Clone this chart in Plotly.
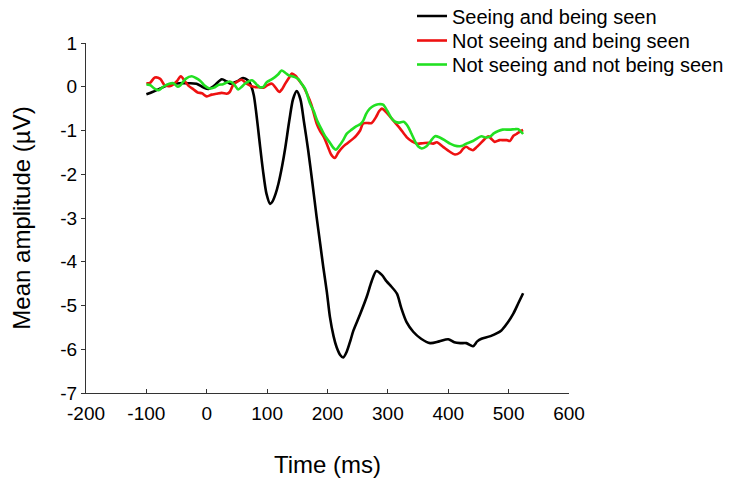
import plotly.graph_objects as go

# ---- data ----
names = ["Seeing and being seen", "Not seeing and being seen", "Not seeing and not being seen"]
colors = ["#000000", "#ee1111", "#22e022"]

black_x = [-100, -90, -77, -61, -45, -30, -17, -5, 3, 12, 25, 33, 40, 50, 60, 68, 74, 78, 82, 87, 93, 99,
           105, 109, 114, 119, 125, 130, 137, 143, 149, 155, 161, 168, 175, 182, 188, 193, 199, 204, 210,
           215, 221, 226, 232, 238, 243, 254, 265, 273, 281, 290, 298, 304, 315, 322, 331, 342, 355, 370,
           385, 400, 410, 420, 430, 441, 448, 455, 470, 488, 498, 508, 516, 524]
black_y = [-0.17, -0.12, -0.04, 0.05, 0.08, 0.08, 0.07, -0.02, -0.05, 0.02, 0.17, 0.12, 0.07, 0.12, 0.2, 0.15,
           0.0, -0.2, -0.6, -1.2, -1.9, -2.45, -2.68, -2.62, -2.45, -2.2, -1.8, -1.4, -0.75, -0.28, -0.1, -0.28,
           -0.8, -1.45, -2.2, -2.98, -3.6, -4.12, -4.7, -5.26, -5.7, -5.95, -6.13, -6.19, -6.05, -5.8, -5.57,
           -5.2, -4.8, -4.45, -4.21, -4.3, -4.45, -4.54, -4.73, -5.05, -5.38, -5.6, -5.76, -5.86, -5.82, -5.77,
           -5.84, -5.86, -5.86, -5.93, -5.82, -5.76, -5.7, -5.57, -5.4, -5.18, -4.95, -4.72]

red_x = [-100, -94, -86, -77, -70, -60, -50, -43, -36, -30, -22, -15, -8, 0, 8, 16, 25, 33, 38, 44, 52, 58,
         66, 77, 86, 94, 101, 108, 114, 120, 125, 130, 136, 141, 147, 152, 159, 166, 173, 182, 188, 194, 201,
         206, 212, 218, 226, 232, 243, 248, 254, 259, 266, 273, 280, 286, 290, 297, 304, 312, 320, 331, 340,
         348, 358, 367, 375, 381, 392, 402, 411, 419, 425, 430, 435, 441, 447, 453, 460, 466, 472, 477, 485,
         491, 497, 502, 508, 513, 518, 524]
red_y = [0.08, 0.09, 0.21, 0.18, 0.04, 0.02, 0.12, 0.24, 0.12, 0.02, -0.06, -0.13, -0.15, -0.22, -0.18, -0.16,
         -0.14, -0.16, -0.12, 0.05, 0.13, 0.16, 0.07, 0.0, -0.01, -0.02, 0.04, 0.07, -0.02, -0.12, -0.05, 0.07,
         0.2, 0.3, 0.25, 0.16, 0.03, -0.16, -0.4, -0.84, -1.02, -1.15, -1.38, -1.55, -1.63, -1.5, -1.37, -1.3,
         -1.18, -1.11, -1.0, -0.84, -0.83, -0.83, -0.7, -0.55, -0.5, -0.58, -0.69, -0.82, -0.95, -1.15, -1.25,
         -1.3, -1.29, -1.28, -1.3, -1.27, -1.38, -1.48, -1.55, -1.51, -1.41, -1.37, -1.42, -1.45, -1.38, -1.3,
         -1.2, -1.13, -1.2, -1.26, -1.22, -1.22, -1.22, -1.24, -1.12, -1.08, -1.03, -0.99]

green_x = [-100, -94, -86, -80, -72, -62, -55, -48, -44, -35, -25, -18, -11, -3, 5, 12, 19, 27, 38, 45, 52,
           58, 63, 69, 75, 82, 88, 94, 99, 105, 110, 118, 124, 130, 136, 146, 152, 157, 163, 171, 177, 183,
           190, 197, 204, 210, 214, 219, 226, 232, 240, 248, 254, 259, 264, 270, 277, 284, 292, 299, 306, 312,
           318, 326, 333, 339, 345, 350, 356, 364, 371, 378, 386, 395, 403, 410, 419, 425, 430, 441, 448, 455,
           462, 469, 476, 483, 490, 502, 510, 516, 520, 524]
green_y = [0.05, 0.04, -0.05, -0.08, 0.0, 0.07, 0.08, 0.0, 0.03, 0.18, 0.24, 0.2, 0.14, 0.02, -0.04, -0.02,
           0.04, 0.06, 0.12, 0.06, -0.06, 0.0, 0.07, 0.12, 0.15, 0.06, -0.01, 0.0, 0.1, 0.15, 0.19, 0.28, 0.37,
           0.32, 0.26, 0.22, 0.17, 0.07, -0.05, -0.38, -0.55, -0.78, -0.97, -1.15, -1.28, -1.4, -1.44, -1.36,
           -1.22, -1.07, -0.98, -0.9, -0.86, -0.78, -0.62, -0.5, -0.43, -0.4, -0.41, -0.55, -0.72, -0.8, -0.82,
           -0.8, -0.9, -1.07, -1.25, -1.36, -1.41, -1.36, -1.24, -1.13, -1.16, -1.23, -1.3, -1.34, -1.36, -1.34,
           -1.3, -1.24, -1.18, -1.13, -1.16, -1.14, -1.06, -1.01, -0.98, -0.98, -0.97, -0.97, -1.02, -1.08]

x_ticks = [-200, -100, 0, 100, 200, 300, 400, 500, 600]
x_tick_text = ["-200", "-100", "0", "100", "200", "300", "400", "500", "600"]
y_ticks = [1, 0, -1, -2, -3, -4, -5, -6, -7]
y_tick_text = ["1", "0", "-1", "-2", "-3", "-4", "-5", "-6", "-7"]

series = [(black_x, black_y), (red_x, red_y), (green_x, green_y)]

FONT = "Liberation Sans, Arial, sans-serif"
W, H = 743, 481
legend_ids = ["legend", "legend2", "legend3"]
legend_rows_px = [16, 40.5, 64.5]

fig = go.Figure()
for (xs, ys), name, col, lid in zip(series, names, colors, legend_ids):
    fig.add_trace(go.Scatter(x=xs, y=ys, mode="lines", name=name, legend=lid,
                             line=dict(color=col, width=2.6, shape="spline", smoothing=0.8)))

legend_common = dict(xref="container", yref="container", xanchor="left", yanchor="middle",
                     font=dict(size=20, family=FONT, color="black"),
                     bgcolor="rgba(0,0,0,0)", borderwidth=0)
layout_legends = {}
for lid, py in zip(legend_ids, legend_rows_px):
    layout_legends[lid] = dict(x=412 / W, y=1 - py / H, **legend_common)

fig.update_layout(
    width=W, height=H,
    margin=dict(l=86, r=174, t=43, b=88, autoexpand=False),
    paper_bgcolor="white", plot_bgcolor="white",
    font=dict(family=FONT, color="black"),
    showlegend=True,
    **layout_legends,
    xaxis=dict(range=[-200, 600], tickvals=x_ticks, ticktext=x_tick_text,
               showgrid=False, zeroline=False, showline=True, linecolor="#333", linewidth=1,
               ticks="inside", ticklen=4, tickcolor="#333", ticklabelstandoff=3,
               tickfont=dict(size=19, family=FONT, color="black"),
               title=dict(text="Time (ms)", font=dict(size=24, family=FONT, color="black"), standoff=33)),
    yaxis=dict(range=[-7, 1], tickvals=y_ticks, ticktext=y_tick_text,
               showgrid=False, zeroline=False, showline=True, linecolor="#333", linewidth=1,
               ticks="outside", ticklen=4, tickcolor="#333",
               tickfont=dict(size=19, family=FONT, color="black"),
               title=dict(text="Mean amplitude (µV)", font=dict(size=24, family=FONT, color="black"), standoff=22)),
)

fig.write_html("out.html")
